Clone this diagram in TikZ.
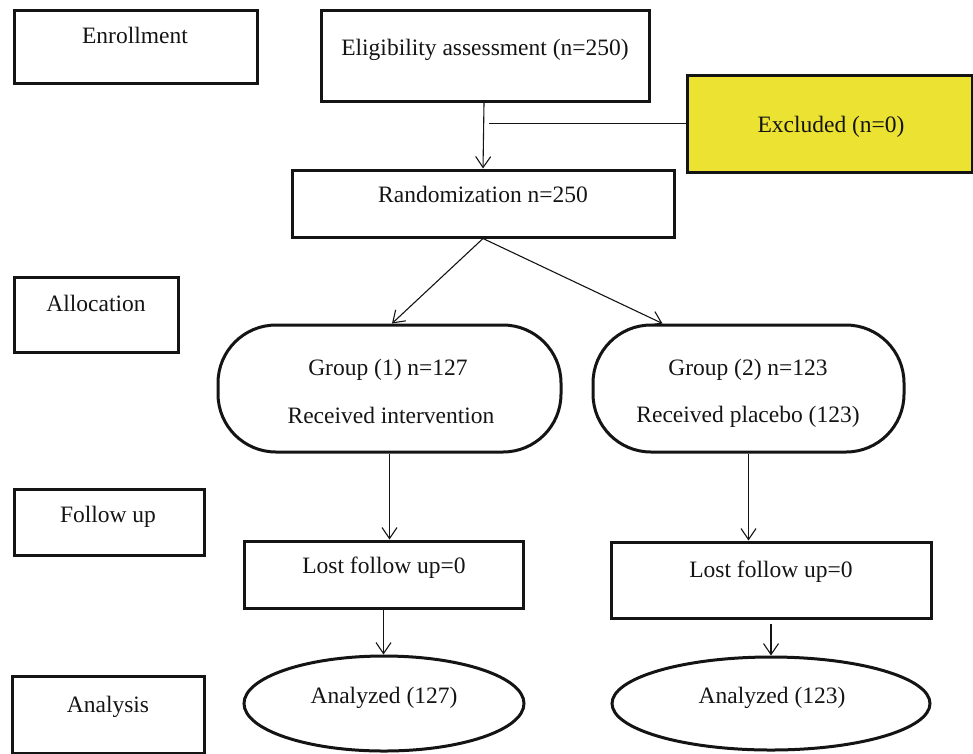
\documentclass[tikz,border=0pt]{standalone}
\usepackage{fontspec}
\setmainfont{Liberation Serif}
\usetikzlibrary{arrows.meta,shapes.geometric}
\definecolor{exclyellow}{RGB}{235,226,50}
\definecolor{inkc}{RGB}{20,20,20}
\tikzset{
  boxshape/.style={draw=inkc, line width=3pt, rectangle, inner sep=0pt},
  stadium/.style={draw=inkc, line width=3pt, rectangle, rounded corners=58pt, inner sep=0pt},
  ovalshape/.style={draw=inkc, line width=3pt, ellipse, inner sep=0pt},
  txt/.style={anchor=base, inner sep=0pt, text=inkc, font=\fontsize{23.5}{28}\selectfont},
  conn/.style={draw=inkc, line width=1.1pt},
  arr/.style={conn, -{Straight Barb[length=11pt,width=15pt,line width=1.1pt]}}
}
\begin{document}
\begin{tikzpicture}[x=1pt,y=-1pt]
\useasboundingbox (0,0) rectangle (973,753);
% stage boxes
\node[boxshape, minimum width=243pt, minimum height=73pt] (enroll) at (135.5,46.5) {};
\node[boxshape, minimum width=164pt, minimum height=75pt] (alloc) at (96,314.5) {};
\node[boxshape, minimum width=190pt, minimum height=66pt] (follow) at (109,522.5) {};
\node[boxshape, minimum width=192pt, minimum height=77pt] (analysis) at (108,714.5) {};
% flow boxes
\node[boxshape, minimum width=328pt, minimum height=91pt] (elig) at (485,56) {};
\node[boxshape, fill=exclyellow, minimum width=285pt, minimum height=97pt] (excl) at (829.5,123.5) {};
\node[boxshape, minimum width=382pt, minimum height=67pt] (rand) at (483,203.5) {};
\node[stadium, minimum width=343pt, minimum height=127pt] (g1) at (389.5,388.5) {};
\node[stadium, minimum width=311pt, minimum height=127pt] (g2) at (748.5,388.5) {};
\node[boxshape, minimum width=279pt, minimum height=67pt] (lost1) at (383.5,574.5) {};
\node[boxshape, minimum width=320pt, minimum height=76pt] (lost2) at (771,580) {};
\node[ovalshape, minimum width=280pt, minimum height=95pt] (ana1) at (384,703.5) {};
\node[ovalshape, minimum width=318pt, minimum height=93pt] (ana2) at (771,703.5) {};
% texts
\node[txt] (tEnroll) at (135,43) {Enrollment};
\node[txt] (tAlloc) at (96,311) {Allocation};
\node[txt] (tFollow) at (108,522) {Follow up};
\node[txt] (tAnalysis) at (108,712) {Analysis};
\node[txt] (tElig) at (485,55) {Eligibility assessment (n=250)};
\node[txt] (tExcl) at (831,132) {Excluded (n=0)};
\node[txt] (tRand) at (483,202) {Randomization n=250};
\node[txt] (tG1a) at (388,375) {Group (1) n=127};
\node[txt] (tG1b) at (391,423) {Received intervention};
\node[txt] (tG2a) at (748,375) {Group (2) n=123};
\node[txt] (tG2b) at (748,422) {Received placebo (123)};
\node[txt] (tLost1) at (384,573) {Lost follow up=0};
\node[txt] (tLost2) at (771,577) {Lost follow up=0};
\node[txt] (tAna1) at (384,703) {Analyzed (127)};
\node[txt] (tAna2) at (772,703) {Analyzed (123)};
% connectors
\coordinate (exj) at (489,123.5);
\draw[arr] ([xshift=-1pt]elig.south) -- (rand.north);
\draw[conn] (excl.west) -- (exj);
\draw[arr] (rand.south) -- ([xshift=2.5pt]g1.north);
\draw[arr] (rand.south) -- ([xshift=-86pt]g2.north);
\draw[arr] (g1.south) -- (g1.south |- lost1.north);
\draw[arr] (g2.south) -- (g2.south |- lost2.north);
\draw[arr] (lost1.south) -- (lost1.south |- ana1.north);
\draw[arr] ([yshift=-4pt]lost2.south) -- (ana2.north);
\end{tikzpicture}
\end{document}
